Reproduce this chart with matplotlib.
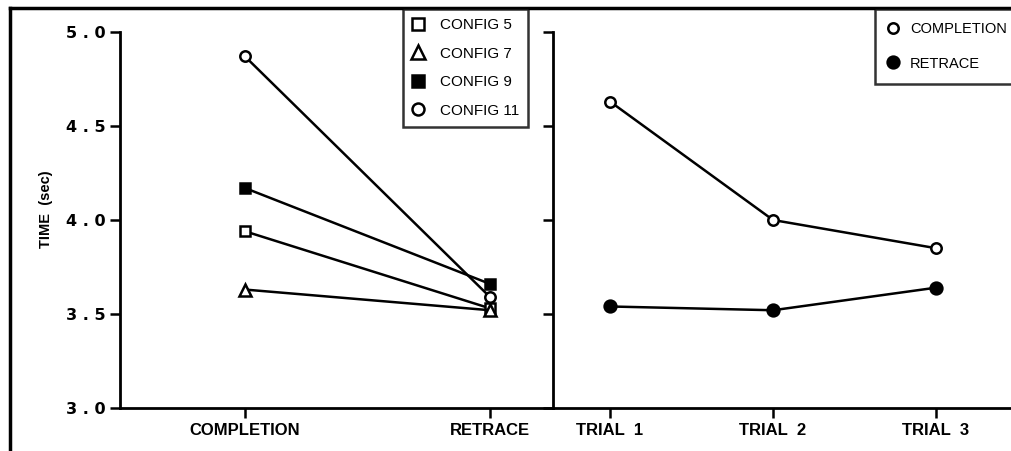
#Two-panel line chart: completion vs retrace times
import matplotlib.pyplot as plt
from matplotlib.lines import Line2D

#Data
phases = ["COMPLETION", "RETRACE"]
config5 = [3.94, 3.53]
config7 = [3.63, 3.52]
config9 = [4.17, 3.66]
config11 = [4.87, 3.59]

trials = ["TRIAL  1", "TRIAL  2", "TRIAL  3"]
trial_pos = [1, 2, 3]
completion = [4.63, 4.00, 3.85]
retrace = [3.54, 3.52, 3.64]

yticks = [3.0, 3.5, 4.0, 4.5, 5.0]
ytick_labels = ["3 . 0", "3 . 5", "4 . 0", "4 . 5", "5 . 0"]

plt.rcParams['font.family'] = ['Liberation Sans', 'DejaVu Sans']

W, H = 1011, 451
fig = plt.figure(figsize=(W/100, H/100), dpi=100)

#axes placed in pixel positions
def px_axes(x0, x1, y0, y1):
    return fig.add_axes([x0/W, 1 - y1/H, (x1 - x0)/W, (y1 - y0)/H])

ax1 = px_axes(120, 553, 32, 408)
ax2 = px_axes(553, 1011, 32, 408)

lw = 1.8
ms = 7.5
mew = 1.8

ax1.plot([0, 1], config5, color='black', lw=lw, marker='s', ms=ms,
         mfc='white', mec='black', mew=mew, label="CONFIG 5")
ax1.plot([0, 1], config7, color='black', lw=lw, marker='^', ms=ms + 1,
         mfc='white', mec='black', mew=mew, label="CONFIG 7")
ax1.plot([0, 1], config9, color='black', lw=lw, marker='s', ms=ms,
         mfc='black', mec='black', mew=mew, label="CONFIG 9")
ax1.plot([0, 1], config11, color='black', lw=lw, marker='o', ms=ms,
         mfc='white', mec='black', mew=mew, label="CONFIG 11")

ax2.plot(trial_pos, completion, color='black', lw=lw, marker='o', ms=ms,
         mfc='white', mec='black', mew=mew, label="COMPLETION")
ax2.plot(trial_pos, retrace, color='black', lw=lw, marker='o', ms=ms + 1,
         mfc='black', mec='black', mew=mew, label="RETRACE")

for ax in (ax1, ax2):
    ax.set_ylim(3.0, 5.0)
    ax.set_yticks(yticks)
    ax.spines['top'].set_visible(False)
    ax.spines['right'].set_visible(False)
    ax.spines['left'].set_linewidth(2)
    ax.spines['bottom'].set_linewidth(2)
    ax.tick_params(axis='both', direction='out', length=7, width=1.8)
    ax.set_facecolor('none')

ax1.set_xlim(-0.51, 1.257)
ax1.set_xticks([0, 1])
ax1.set_xticklabels(phases, fontweight='bold', fontsize=12)
ax1.set_yticklabels(ytick_labels, fontweight='bold', fontsize=11.5,
                    family='DejaVu Sans')
ax1.set_ylabel("TIME  (sec)", fontweight='bold', fontsize=10.5)
ax1.yaxis.set_label_coords(-0.155, 0.53)

ax2.set_xlim(0.65, 3.46)
ax2.set_xticks(trial_pos)
ax2.set_xticklabels(trials, fontweight='bold', fontsize=12)
ax2.set_yticklabels([])

#legends
leg1 = fig.legend(handles=ax1.get_lines(), loc='upper left',
                  bbox_to_anchor=(403/W, 1 - 9/H), frameon=True, fancybox=False,
                  edgecolor='black', fontsize=11, handlelength=0.7,
                  markerscale=1.15, handletextpad=1.1, labelspacing=0.95,
                  borderpad=0.6, borderaxespad=0)
leg1.get_frame().set_linewidth(1.8)
for h in leg1.legend_handles:
    h.set_linestyle('none')

leg2 = fig.legend(handles=ax2.get_lines(), loc='upper left',
                  bbox_to_anchor=(875/W, 1 - 9/H), frameon=True, fancybox=False,
                  edgecolor='black', fontsize=10.5, handlelength=0.7,
                  handletextpad=0.8, labelspacing=1.4, borderpad=0.9,
                  borderaxespad=0)
leg2.get_frame().set_linewidth(1.8)
for h in leg2.legend_handles:
    h.set_linestyle('none')

#outer frame
fig.add_artist(Line2D([10/W, 1], [1 - 8/H, 1 - 8/H], color='black', lw=2.5,
                      transform=fig.transFigure))
fig.add_artist(Line2D([10/W, 10/W], [0, 1 - 8/H], color='black', lw=2.5,
                      transform=fig.transFigure))

fig.savefig("out.png", dpi=100)
